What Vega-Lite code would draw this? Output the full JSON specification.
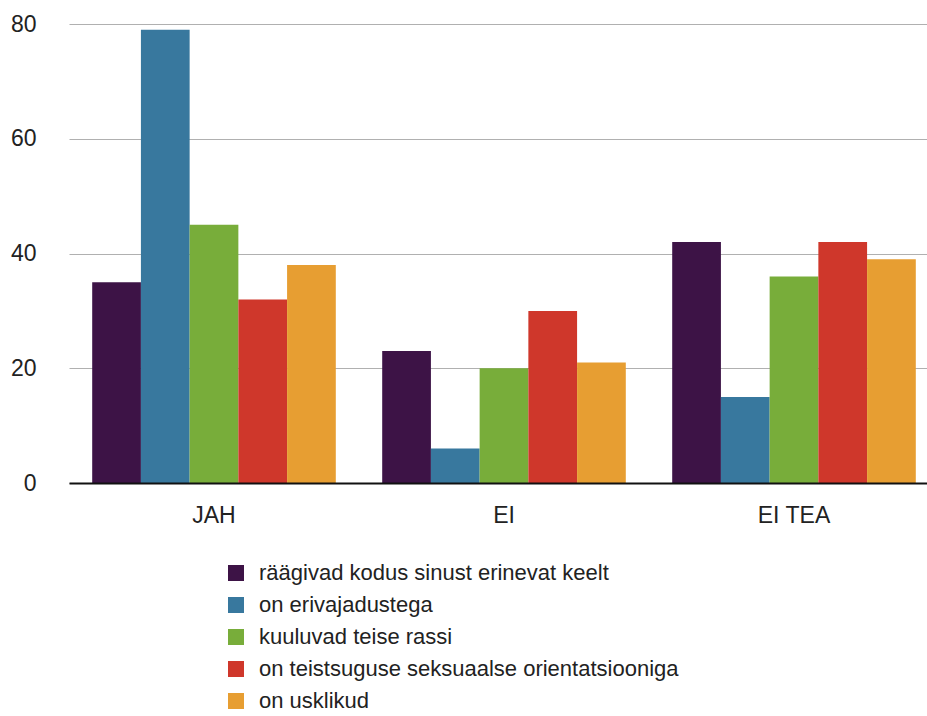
{
  "$schema": "https://vega.github.io/schema/vega-lite/v6.json",
  "width": 858,
  "height": 459,
  "autosize": {"type": "none"},
  "padding": {"left": 69, "top": 24, "right": 0, "bottom": 233},
  "background": "white",
  "config": {
    "view": {"stroke": null},
    "font": "Liberation Sans"
  },
  "data": {
    "values": [
      {"vastus": "JAH", "grupp": "räägivad kodus sinust erinevat keelt", "protsent": 35},
      {"vastus": "JAH", "grupp": "on erivajadustega", "protsent": 79},
      {"vastus": "JAH", "grupp": "kuuluvad teise rassi", "protsent": 45},
      {"vastus": "JAH", "grupp": "on teistsuguse seksuaalse orientatsiooniga", "protsent": 32},
      {"vastus": "JAH", "grupp": "on usklikud", "protsent": 38},
      {"vastus": "EI", "grupp": "räägivad kodus sinust erinevat keelt", "protsent": 23},
      {"vastus": "EI", "grupp": "on erivajadustega", "protsent": 6},
      {"vastus": "EI", "grupp": "kuuluvad teise rassi", "protsent": 20},
      {"vastus": "EI", "grupp": "on teistsuguse seksuaalse orientatsiooniga", "protsent": 30},
      {"vastus": "EI", "grupp": "on usklikud", "protsent": 21},
      {"vastus": "EI TEA", "grupp": "räägivad kodus sinust erinevat keelt", "protsent": 42},
      {"vastus": "EI TEA", "grupp": "on erivajadustega", "protsent": 15},
      {"vastus": "EI TEA", "grupp": "kuuluvad teise rassi", "protsent": 36},
      {"vastus": "EI TEA", "grupp": "on teistsuguse seksuaalse orientatsiooniga", "protsent": 42},
      {"vastus": "EI TEA", "grupp": "on usklikud", "protsent": 39}
    ]
  },
  "mark": {"type": "bar"},
  "encoding": {
    "x": {
      "field": "vastus",
      "type": "nominal",
      "sort": ["JAH", "EI", "EI TEA"],
      "scale": {"paddingInner": 0.16, "paddingOuter": 0.08, "range": [0, 870]},
      "axis": {
        "title": null,
        "labelAngle": 0,
        "labelFontSize": 23,
        "labelColor": "#222",
        "labelPadding": 21,
        "ticks": false,
        "domainColor": "#111",
        "domainWidth": 2,
        "zindex": 1
      }
    },
    "xOffset": {
      "field": "grupp",
      "type": "nominal",
      "sort": [
        "räägivad kodus sinust erinevat keelt",
        "on erivajadustega",
        "kuuluvad teise rassi",
        "on teistsuguse seksuaalse orientatsiooniga",
        "on usklikud"
      ]
    },
    "y": {
      "field": "protsent",
      "type": "quantitative",
      "scale": {"domain": [0, 80]},
      "axis": {
        "title": null,
        "values": [0, 20, 40, 60, 80],
        "labelFontSize": 23,
        "labelColor": "#222",
        "labelPadding": 33,
        "ticks": false,
        "domain": false,
        "gridColor": "#b0b0b0",
        "gridWidth": 1.2
      }
    },
    "color": {
      "field": "grupp",
      "type": "nominal",
      "sort": [
        "räägivad kodus sinust erinevat keelt",
        "on erivajadustega",
        "kuuluvad teise rassi",
        "on teistsuguse seksuaalse orientatsiooniga",
        "on usklikud"
      ],
      "scale": {
        "range": ["#3d1346", "#38789e", "#78ad3a", "#cf372b", "#e79e32"]
      },
      "legend": {
        "title": null,
        "orient": "none",
        "legendX": 156,
        "legendY": 538,
        "symbolType": "square",
        "symbolSize": 256,
        "symbolStrokeWidth": 0,
        "labelFontSize": 22,
        "labelColor": "#222",
        "labelOffset": 12,
        "rowPadding": 10,
        "labelLimit": 600
      }
    }
  }
}
